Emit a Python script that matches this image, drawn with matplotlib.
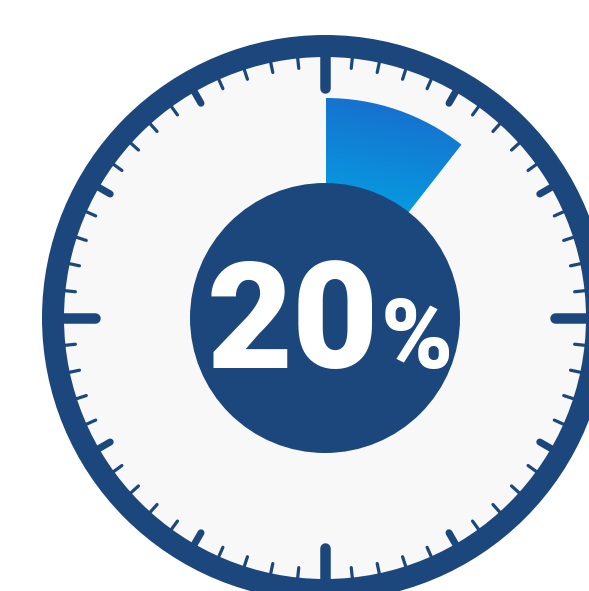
import numpy as np
import matplotlib.pyplot as plt
from matplotlib.patches import Circle, Wedge

# data
percent = 20
sweep_deg = 38  # span of the coloured sector as drawn in the reference
n_ticks = 60
label_num = "20"
label_pct = "%"

W, H = 589, 591
cx, cy = 325, 318
dark = '#1b477c'
face = '#f8f8f8'
px = 72 / 100  # points per pixel

fig = plt.figure(figsize=(W / 100, H / 100), dpi=100)
ax = fig.add_axes([0, 0, 1, 1])
ax.set_xlim(0, W)
ax.set_ylim(H, 0)
ax.set_aspect('equal')
ax.axis('off')

# clock face and ring
ax.add_patch(Circle((cx, cy), 272, facecolor=face, edgecolor=dark, lw=22 * px, zorder=1))

# ticks
for i in range(n_ticks):
    a = np.deg2rad(90 - 6 * i)
    if i % 15 == 0:
        r0, r1, lw = 230, 266, 10.5
    elif i % 5 == 0:
        r0, r1, lw = 248, 266, 7
    else:
        r0, r1, lw = 251, 266, 3.2
    xs = [cx + r0 * np.cos(a), cx + r1 * np.cos(a)]
    ys = [cy - r0 * np.sin(a), cy - r1 * np.sin(a)]
    ax.plot(xs, ys, color=dark, lw=lw * px, solid_capstyle='round', zorder=2)

# progress wedge with gradient (y axis inverted: 270 is straight up, going clockwise)
theta1 = 270
theta2 = 270 + sweep_deg
wedge = Wedge((cx + 1, cy), 220, theta1, theta2, width=88, facecolor='none', edgecolor='none')
ax.add_patch(wedge)
gx, gy = np.meshgrid(np.linspace(0, 1, 200), np.linspace(0, 1, 200))
t = np.clip(0.2 * gx + 0.9 * gy, 0, 1)  # gy=0 at bottom of extent
c0 = np.array([0x05, 0xa2, 0xe4]) / 255
c1 = np.array([0x18, 0x6c, 0xcc]) / 255
img = c0 + (c1 - c0) * t[..., None]
im = ax.imshow(img, extent=(cx, cx + 145, cy - 100, cy - 225), origin='lower',
               zorder=3, interpolation='bilinear')
im.set_clip_path(wedge)

# center disc
ax.add_patch(Circle((cx, cy), 135, facecolor=dark, edgecolor='none', zorder=4))

ax.text(379, 368, label_num, color='white', fontsize=107, fontfamily='Roboto',
        fontweight='black', ha='right', va='baseline', zorder=5)
ax.text(381, 368, label_pct, color='white', fontsize=70, fontfamily='Roboto',
        fontweight='black', ha='left', va='baseline', zorder=5)

ax.set_xlim(0, W)
ax.set_ylim(H, 0)
fig.savefig('out.png', dpi=100, facecolor='white')
